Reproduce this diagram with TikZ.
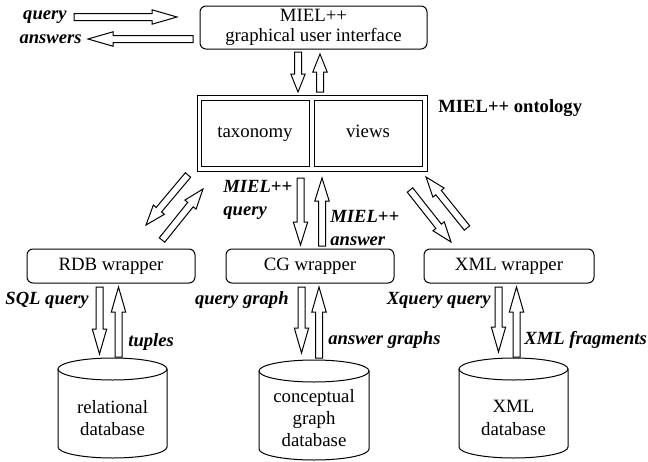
\documentclass[tikz,border=0pt]{standalone}
\usepackage{fontspec}
\setmainfont{Liberation Serif}
\usetikzlibrary{calc}
\newcommand{\fatarrow}[3][12pt]{%
  \coordinate (hb) at ($(#3)!#1!(#2)$);
  \draw[fat] ($(#2)!1.75pt!90:(#3)$) -- ($(hb)!1.75pt!-90:(#2)$) -- ($(hb)!3.6pt!-90:(#2)$) -- (#3)
     -- ($(hb)!3.6pt!90:(#2)$) -- ($(hb)!1.75pt!90:(#2)$) -- ($(#2)!1.75pt!-90:(#3)$) -- cycle;}
\newcommand{\dbcyl}[4]{% x0, x1, ytop, ybot (pixels)
  \draw[line width=0.5pt] ({(#1+#2)/2},{#3+11}) ellipse [x radius={(#2-#1)/4*1pt}, y radius=5.5pt];
  \draw[line width=0.5pt] (#1,{#3+11}) -- (#1,{#4-11}) arc[start angle=180, end angle=360, x radius={(#2-#1)/4*1pt}, y radius=5.5pt] -- (#2,{#3+11});}
\begin{document}
\begin{tikzpicture}[x=0.5pt,y=-0.5pt,
  box/.style={draw, line width=0.5pt, rounded corners=3pt, inner sep=0pt, align=center,
    font=\fontsize{9.4}{10}\selectfont},
  sq/.style={draw, line width=0.5pt, inner sep=0pt, align=center, font=\fontsize{9.4}{10}\selectfont,
    text height=0.68em, text depth=0.22em},
  txt/.style={inner sep=0pt, align=center, font=\fontsize{9.4}{11.2}\selectfont},
  lab/.style={inner sep=0pt, align=left, font=\fontsize{9.3}{11.5}\selectfont\bfseries\itshape},
  fat/.style={draw, line width=0.5pt, fill=white, line join=miter},
]
\useasboundingbox (0,0) rectangle (648,461);

% top
\node[box, minimum width=113.5pt, minimum height=21.5pt] (gui) at (313.5,27.5) {MIEL++\\graphical user interface};
\node[lab, anchor=east] (qlab) at (67,17) {query};
\node[lab, anchor=east] (alab) at (82,39) {answers};
\coordinate (q1) at (74,17); \coordinate (q2) at (177,17);
\coordinate (a1) at (193,39); \coordinate (a2) at (88,39);
\fatarrow[12.5pt]{q1}{q2}
\fatarrow[12.5pt]{a1}{a2}

% ontology
\node[sq, minimum width=115pt, minimum height=38pt] (onto) at (312,133) {};
\node[sq, minimum width=54pt, minimum height=33pt] (tax) at (255,133) {taxonomy};
\node[sq, minimum width=54pt, minimum height=33pt] (views) at (368,133) {views};
\node[inner sep=0pt, anchor=west, font=\fontsize{9.3}{11}\selectfont\bfseries] (olab) at (438,108) {MIEL++ ontology};

\coordinate (g1) at (298,52); \coordinate (g2) at (298,92);
\coordinate (g3) at (320,92); \coordinate (g4) at (320,54);
\fatarrow[9pt]{g1}{g2}
\fatarrow[9pt]{g3}{g4}

% wrappers
\node[box, text height=0.68em, text depth=0.22em, minimum width=84pt, minimum height=17pt] (rdbw) at (111,266) {RDB wrapper};
\node[box, text height=0.68em, text depth=0.22em, minimum width=84pt, minimum height=17pt] (cgw) at (310,266) {CG wrapper};
\node[box, text height=0.68em, text depth=0.22em, minimum width=85pt, minimum height=17pt] (xmlw) at (509,266) {XML wrapper};

% middle arrows
\coordinate (m1) at (300.5,178); \coordinate (m2) at (300.5,245);
\coordinate (m3) at (322,246); \coordinate (m4) at (322,178);
\fatarrow[11.5pt]{m1}{m2}
\fatarrow[11.5pt]{m3}{m4}
\node[lab, anchor=west] (mq) at (223,200) {MIEL++\\query};
\node[lab, anchor=west] (ma) at (330,228.5) {MIEL++\\answer};

\coordinate (l1) at (188,175); \coordinate (l2) at (146,225);
\coordinate (l3) at (162,240); \coordinate (l4) at (203,189);
\fatarrow[10pt]{l1}{l2}
\fatarrow[10pt]{l3}{l4}
\coordinate (r1) at (410,190); \coordinate (r2) at (451,242);
\coordinate (r3) at (467,228); \coordinate (r4) at (426,177);
\fatarrow[10pt]{r1}{r2}
\fatarrow[10pt]{r3}{r4}

% bottom arrows
\coordinate (b1) at (99.5,287); \coordinate (b2) at (99.5,354);
\coordinate (b3) at (118.5,357); \coordinate (b4) at (118.5,287);
\fatarrow[12.5pt]{b1}{b2}
\fatarrow[12.5pt]{b3}{b4}
\coordinate (c1) at (301.5,287); \coordinate (c2) at (301.5,353);
\coordinate (c3) at (319,358); \coordinate (c4) at (319,287);
\fatarrow[12.5pt]{c1}{c2}
\fatarrow[12.5pt]{c3}{c4}
\coordinate (x1) at (498.5,287); \coordinate (x2) at (498.5,352);
\coordinate (x3) at (516.5,357); \coordinate (x4) at (516.5,287);
\fatarrow[12.5pt]{x1}{x2}
\fatarrow[12.5pt]{x3}{x4}

\node[lab, anchor=east] (sql) at (89,300) {SQL query};
\node[lab, anchor=west] (tup) at (128,342) {tuples};
\node[lab, anchor=east] (qg) at (289,300) {query graph};
\node[lab, anchor=west] (ag) at (328,340) {answer graphs};
\node[lab, anchor=east] (xq) at (491,300) {Xquery query};
\node[lab, anchor=west] (xf) at (524,340) {XML fragments};

% databases
\dbcyl{58}{167}{358}{458}
\dbcyl{259}{369}{360}{460}
\dbcyl{459}{568}{358}{458}
\node[txt] (rdb) at (112.5,418) {relational\\database};
\node[txt] (cg) at (314,418) {conceptual\\graph\\database};
\node[txt] (xml) at (513.5,418) {XML\\database};
\end{tikzpicture}
\end{document}
